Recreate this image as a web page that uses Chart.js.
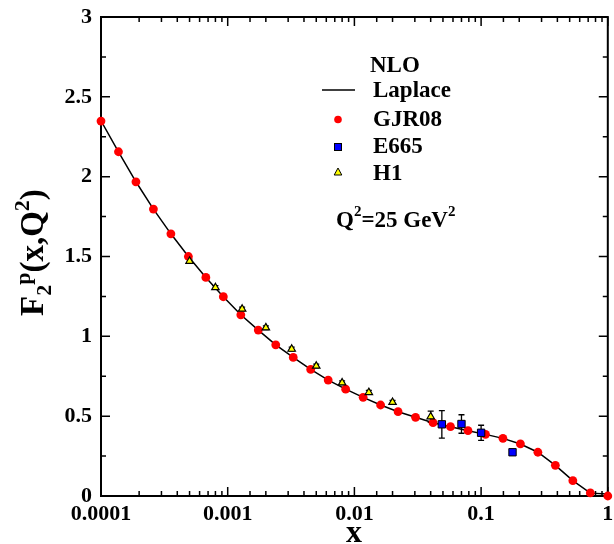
<!DOCTYPE html>
<html>
<head>
<meta charset="utf-8">
<script src="https://cdn.jsdelivr.net/npm/chart.js@4.4.1/dist/chart.umd.min.js"></script>
<style>
  body { margin: 0; background: #fff; }
  #wrap { width: 614px; height: 544px; }
</style>
</head>
<body>
<div id="wrap"><canvas id="f2-chart" width="614" height="544"></canvas></div>
<script>
// GJR08 points (and the Laplace NLO curve on the same x grid)
var gjrX = [0.0001, 0.0001374, 0.0001887, 0.0002593, 0.0003562, 0.0004894, 0.0006723, 0.0009237,
    0.001269, 0.001743, 0.002395, 0.003290, 0.004520, 0.006210, 0.008532, 0.01172, 0.01610,
    0.02212, 0.03039, 0.04175, 0.05736, 0.07880, 0.1083, 0.1487, 0.2043, 0.2807, 0.3857,
    0.5298, 0.7279, 1.0];
var gjrY = [2.348, 2.156, 1.968, 1.797, 1.642, 1.500, 1.369, 1.248, 1.135, 1.039, 0.947, 0.868,
    0.793, 0.726, 0.669, 0.618, 0.570, 0.528, 0.493, 0.459, 0.434, 0.409, 0.386, 0.361, 0.326,
    0.274, 0.192, 0.096, 0.019, 0.0];
var laplaceY = [2.350, 2.156, 1.968, 1.797, 1.642, 1.500, 1.369, 1.248, 1.135, 1.039, 0.947, 0.868,
    0.793, 0.726, 0.669, 0.618, 0.570, 0.528, 0.493, 0.459, 0.434, 0.409, 0.386, 0.361, 0.326,
    0.274, 0.192, 0.096, 0.018, 0.012];

// E665 data
var e665X = [0.049, 0.070, 0.100, 0.177];
var e665Y = [0.449, 0.451, 0.396, 0.274];
var e665Err = [0.086, 0.058, 0.047, 0.012];

// H1 data
var h1X = [0.0005, 0.0008, 0.0013, 0.002, 0.0032, 0.005, 0.008, 0.013, 0.02, 0.04];
var h1Y = [1.471, 1.306, 1.171, 1.054, 0.920, 0.814, 0.709, 0.649, 0.587, 0.497];
var h1Err = [0.012, 0.012, 0.012, 0.012, 0.012, 0.012, 0.012, 0.012, 0.012, 0.035];

// tick labels
var xTickValues = [0.0001, 0.001, 0.01, 0.1, 1];
var xTickLabels = ['0.0001', '0.001', '0.01', '0.1', '1'];
var yTickLabels = ['0', '0.5', '1', '1.5', '2', '2.5', '3'];

var serif = '"Liberation Serif", "Times New Roman", serif';

function toPoints(xs, ys) {
    return xs.map(function (x, i) { return { x: x, y: ys[i] }; });
}

// draws text runs one after another: [text, size, baseline shift]
function drawRuns(ctx, runs, x, y) {
    runs.forEach(function (r) {
        ctx.font = 'bold ' + r[1] + 'px ' + serif;
        ctx.fillText(r[0], x, y + r[2]);
        x += ctx.measureText(r[0]).width;
    });
}

function drawErrors(ctx, xs, ys, errs, sx, sy) {
    xs.forEach(function (x, i) {
        var px = sx.getPixelForValue(x);
        var top = sy.getPixelForValue(ys[i] + errs[i]);
        var bot = sy.getPixelForValue(ys[i] - errs[i]);
        ctx.moveTo(px, top); ctx.lineTo(px, bot);
        ctx.moveTo(px - 3, top); ctx.lineTo(px + 3, top);
        ctx.moveTo(px - 3, bot); ctx.lineTo(px + 3, bot);
    });
}

var framePlugin = {
    id: 'frame',
    beforeDatasetsDraw: function (chart) {
        var ctx = chart.ctx, a = chart.chartArea;
        var sx = chart.scales.x, sy = chart.scales.y;
        ctx.save();
        ctx.strokeStyle = '#000';
        ctx.lineWidth = 2;
        ctx.strokeRect(a.left, a.top, a.right - a.left, a.bottom - a.top);

        ctx.lineWidth = 1.5;
        ctx.beginPath();
        sx.ticks.forEach(function (t) {
            var px = sx.getPixelForValue(t.value);
            var len = t.label ? 9 : 5;
            ctx.moveTo(px, a.bottom); ctx.lineTo(px, a.bottom - len);
            ctx.moveTo(px, a.top); ctx.lineTo(px, a.top + len);
        });
        sy.ticks.forEach(function (t) {
            var py = sy.getPixelForValue(t.value);
            var len = t.label ? 9 : 5;
            ctx.moveTo(a.left, py); ctx.lineTo(a.left + len, py);
            ctx.moveTo(a.right, py); ctx.lineTo(a.right - len, py);
        });
        ctx.stroke();

        // error bars
        ctx.lineWidth = 1.3;
        ctx.beginPath();
        drawErrors(ctx, e665X, e665Y, e665Err, sx, sy);
        drawErrors(ctx, h1X, h1Y, h1Err, sx, sy);
        ctx.stroke();
        ctx.restore();
    },
    afterDraw: function (chart) {
        var ctx = chart.ctx;
        ctx.save();
        ctx.fillStyle = '#000';
        ctx.textBaseline = 'alphabetic';
        ctx.textAlign = 'left';

        // legend
        ctx.font = 'bold 23px ' + serif;
        ctx.fillText('NLO', 370, 71.5);
        ctx.fillText('Laplace', 373, 97);
        ctx.fillText('GJR08', 373, 126);
        ctx.fillText('E665', 373, 153);
        ctx.fillText('H1', 373, 179.5);

        ctx.strokeStyle = '#000';
        ctx.lineWidth = 1.5;
        ctx.beginPath();
        ctx.moveTo(322, 90); ctx.lineTo(355, 90);
        ctx.stroke();

        ctx.fillStyle = '#ff0000';
        ctx.beginPath();
        ctx.arc(338, 119.5, 3.8, 0, Math.PI * 2);
        ctx.fill();

        ctx.lineWidth = 1;
        ctx.fillStyle = '#0000ff';
        ctx.fillRect(334.5, 143.5, 7, 7);
        ctx.strokeRect(334.5, 143.5, 7, 7);

        ctx.fillStyle = '#ffff00';
        ctx.beginPath();
        ctx.moveTo(338, 168); ctx.lineTo(341.8, 175); ctx.lineTo(334.2, 175);
        ctx.closePath();
        ctx.fill(); ctx.stroke();

        ctx.fillStyle = '#000';
        drawRuns(ctx, [['Q', 23, 0], ['2', 15, -11], ['=25 GeV', 23, 0], ['2', 15, -11]], 336, 227);

        // x axis title
        ctx.textAlign = 'center';
        ctx.font = 'bold 32px ' + serif;
        ctx.fillText('x', 354, 542);

        // y axis title
        ctx.textAlign = 'left';
        ctx.translate(43, 316);
        ctx.rotate(-Math.PI / 2);
        drawRuns(ctx, [['F', 33, 0], ['2', 22, 8], ['p', 22, -13], ['(x,Q', 33, 0], ['2', 22, -14], [')', 33, 0]], 0, 0);
        ctx.restore();
    }
};

var tickFont = { family: serif, size: 22, weight: 'bold' };

var ctx = document.getElementById('f2-chart').getContext('2d');
var f2Chart = new Chart(ctx, {
    type: 'scatter',
    data: {
        datasets: [{
            label: 'E665',
            data: toPoints(e665X, e665Y),
            pointStyle: 'rect',
            pointRadius: 5.2,
            backgroundColor: '#0000ff',
            borderColor: '#000',
            borderWidth: 1,
            order: 1
        }, {
            label: 'H1',
            data: toPoints(h1X, h1Y),
            pointStyle: 'triangle',
            pointRadius: 4.3,
            backgroundColor: '#ffff00',
            borderColor: '#000',
            borderWidth: 1.2,
            order: 2
        }, {
            label: 'GJR08',
            data: toPoints(gjrX, gjrY),
            pointStyle: 'circle',
            pointRadius: 4.4,
            backgroundColor: '#ff0000',
            borderWidth: 0,
            clip: false,
            order: 3
        }, {
            label: 'Laplace',
            data: toPoints(gjrX, laplaceY),
            showLine: true,
            pointRadius: 0,
            borderColor: '#000',
            borderWidth: 1.5,
            order: 4
        }]
    },
    options: {
        responsive: false,
        animation: false,
        layout: { padding: { top: 17, right: 5, left: 0, bottom: 0 } },
        plugins: {
            legend: { display: false },
            tooltip: { enabled: false }
        },
        scales: {
            x: {
                type: 'logarithmic',
                min: 0.0001,
                max: 1,
                grid: { display: false, drawTicks: false },
                border: { display: false },
                ticks: {
                    autoSkip: false,
                    maxRotation: 0,
                    padding: 5,
                    color: '#000',
                    font: tickFont,
                    callback: function (value) {
                        for (var i = 0; i < xTickValues.length; i++) {
                            if (Math.abs(value - xTickValues[i]) < xTickValues[i] * 1e-6) return xTickLabels[i];
                        }
                        return '';
                    }
                },
                afterFit: function (scale) {
                    scale.height = 48;
                    scale.paddingLeft = 0;
                    scale.paddingRight = 0;
                }
            },
            y: {
                min: 0,
                max: 3,
                grid: { display: false, drawTicks: false },
                border: { display: false },
                ticks: {
                    stepSize: 0.25,
                    autoSkip: false,
                    padding: 9,
                    color: '#000',
                    font: tickFont,
                    callback: function (value, index) {
                        return index % 2 === 0 ? yTickLabels[index / 2] : '';
                    }
                },
                afterFit: function (scale) {
                    scale.width = 101;
                    scale.paddingTop = 0;
                    scale.paddingBottom = 0;
                }
            }
        }
    },
    plugins: [framePlugin]
});
</script>
</body>
</html>
